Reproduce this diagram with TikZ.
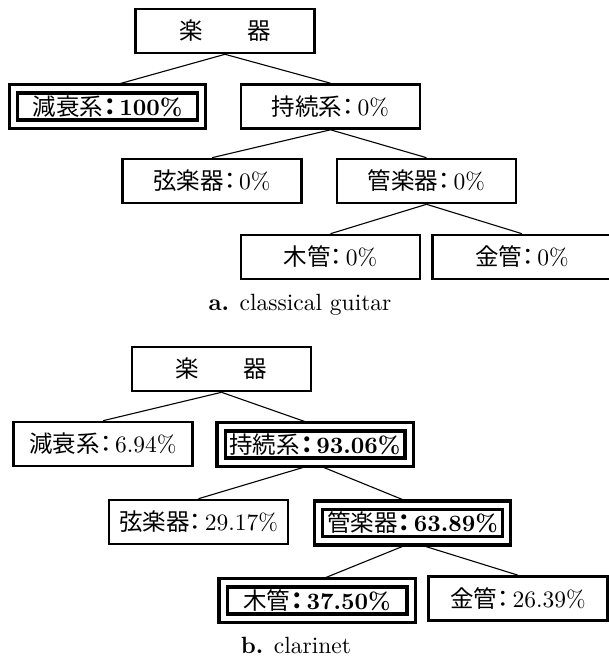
\documentclass[tikz,border=0pt]{standalone}
\usepackage{fontspec}
\setmainfont{lmroman10-regular}[Extension=.otf, BoldFont=lmroman10-bold]
\newfontfamily\cjk{Noto Sans CJK JP}
\usetikzlibrary{backgrounds}
\newcommand\fs{\fontsize{23.5}{28}\selectfont}
\newcommand\lab[2]{{\cjk #1}\makebox[0.5em][c]{\cjk ：}\hspace{0.15em}#2}
\newcommand\blab[2]{{\cjk #1}\makebox[0.6em][c]{\cjk\bfseries ：}\hspace{0.1em}\textbf{#2}}
\tikzset{
  box/.style={draw, line width=2.6pt, minimum width=179pt, minimum height=44pt,
    inner sep=0pt, fill=white, font=\fs},
  dbox/.style={draw, line width=3.3pt, double, double distance=5pt,
    minimum width=188pt, minimum height=35.5pt, inner sep=0pt, fill=white, font=\fs},
  link/.style={line width=1.1pt},
  captext/.style={anchor=base, font=\fs, inner sep=0pt}
}
\begin{document}
\begin{tikzpicture}[x=1pt, y=-1pt]
\useasboundingbox (0,0) rectangle (608,658);
% tree a
\node[box]  (r1) at (225,31)    {{\cjk 楽}\hspace{45pt}{\cjk 器}};
\node[dbox] (a1) at (107.5,106.5) {\blab{減衰系}{100\%}};
\node[box]  (b1) at (330.5,106.5) {\lab{持続系}{0\%}};
\node[box]  (c1) at (212,181)   {\lab{弦楽器}{0\%}};
\node[box]  (d1) at (426.5,181) {\lab{管楽器}{0\%}};
\node[box]  (e1) at (330.5,257) {\lab{木管}{0\%}};
\node[box]  (f1) at (522,257)   {\lab{金管}{0\%}};
\node[captext] (ca) at (300,310) {\textbf{a.} classical guitar};
% tree b
\node[box]  (r2) at (221.5,369) {{\cjk 楽}\hspace{45pt}{\cjk 器}};
\node[box]  (a2) at (103,444)   {\lab{減衰系}{6.94\%}};
\node[dbox] (b2) at (315,444.5) {\blab{持続系}{93.06\%}};
\node[box]  (c2) at (198.5,522) {\lab{弦楽器}{29.17\%}};
\node[dbox] (d2) at (412.5,523) {\blab{管楽器}{63.89\%}};
\node[dbox] (e2) at (317,600.5) {\blab{木管}{37.50\%}};
\node[box]  (f2) at (518,598.5) {\lab{金管}{26.39\%}};
\node[captext] (cb) at (296,653) {\textbf{b.} clarinet};
\begin{pgfonlayer}{background}
\fill[white] (0,0) rectangle (608,658);
\draw[link] (r1.south) -- (a1.north);
\draw[link] (r1.south) -- (b1.north);
\draw[link] (b1.south) -- (c1.north);
\draw[link] (b1.south) -- (d1.north);
\draw[link] (d1.south) -- (e1.north);
\draw[link] (d1.south) -- (f1.north);
\draw[link] (r2.south) -- (a2.north);
\draw[link] (r2.south) -- (b2.north);
\draw[link] (b2.south) -- (c2.north);
\draw[link] (b2.south) -- (d2.north);
\draw[link] (d2.south) -- (e2.north);
\draw[link] (d2.south) -- (f2.north);
\end{pgfonlayer}
\end{tikzpicture}
\end{document}
